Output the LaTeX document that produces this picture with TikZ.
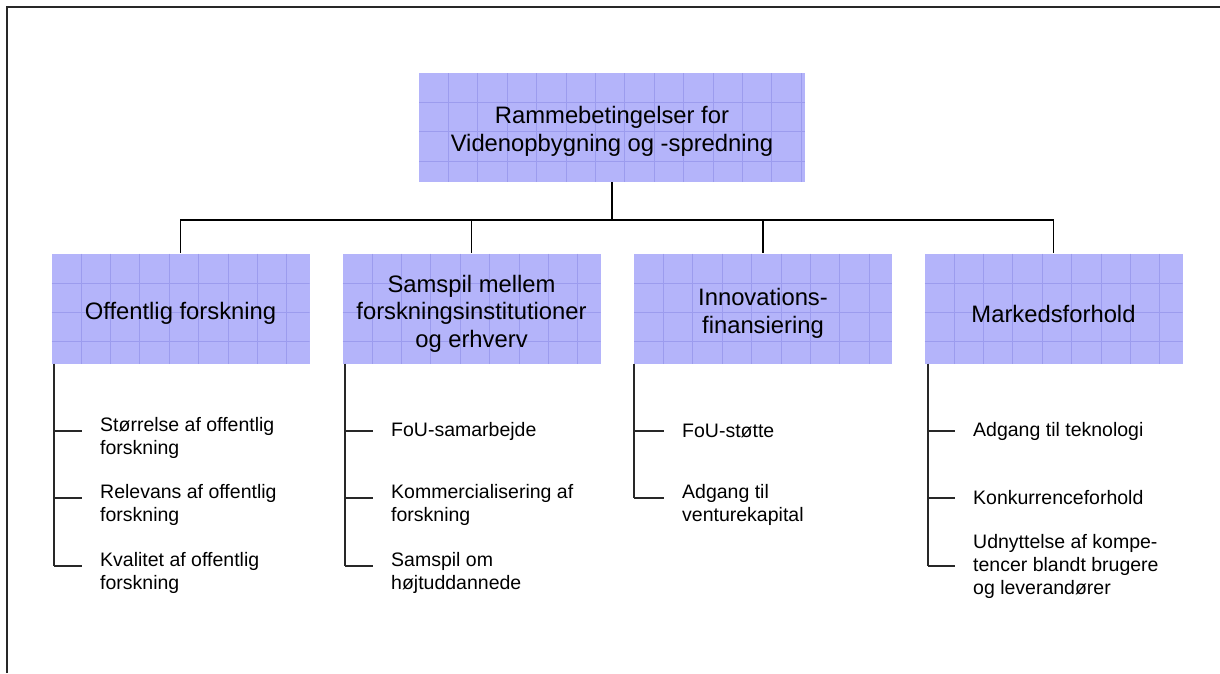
\documentclass[tikz,border=0pt]{standalone}
\usepackage{fontspec}
\setmainfont{Liberation Sans}
\usetikzlibrary{positioning}

\definecolor{boxfill}{RGB}{180,180,250}
\definecolor{boxgrid}{RGB}{156,156,238}
\definecolor{linegray}{RGB}{40,40,40}

\tikzset{
  gridbox/.style={fill=boxfill, inner sep=0pt,
    minimum width=258pt, minimum height=110pt,
    path picture={
      \foreach \k in {1,...,13}
        \draw[boxgrid, line width=0.7pt]
          ([xshift=\k*29.4pt]path picture bounding box.north west) --
          ([xshift=\k*29.4pt]path picture bounding box.south west);
      \foreach \k in {1,...,4}
        \draw[boxgrid, line width=0.7pt]
          ([yshift=-\k*29.4pt]path picture bounding box.north west) --
          ([yshift=-\k*29.4pt]path picture bounding box.north east);
    }},
  boxtext/.style={inner sep=0pt, align=center,
    font=\fontsize{23.8}{27.5}\selectfont},
  item/.style={inner sep=0pt, align=left, anchor=west,
    font=\fontsize{19.5}{23}\selectfont},
  conn/.style={draw=black, line width=1.7pt},
  spine/.style={draw=linegray, line width=1.7pt}
}

\begin{document}
\begin{tikzpicture}[x=1pt, y=-1pt]
\useasboundingbox (0,0) rectangle (1220,673);
% frame
\draw[linegray, line width=2pt] (7,673) -- (7,7) -- (1220,7);

% boxes
\node[gridbox, minimum width=386pt, minimum height=109pt] (top) at (612,127.5) {};
\node[gridbox] (b1) at (180.5,308.5) {};
\node[gridbox] (b2) at (471.5,308.5) {};
\node[gridbox] (b3) at (763,308.5) {};
\node[gridbox] (b4) at (1053.5,308.5) {};

\node[boxtext] (topt) at ([yshift=-4pt]top.center) {Rammebetingelser for\\Videnopbygning og -spredning};
\node[boxtext] (b1t) at ([yshift=-5pt]b1.center) {Offentlig forskning};
\node[boxtext] (b2t) at ([yshift=-5pt]b2.center) {Samspil mellem\\forskningsinstitutioner\\og erhverv};
\node[boxtext] (b3t) at ([yshift=-5pt]b3.center) {Innovations-\\finansiering};
\node[boxtext] (b4t) at ([yshift=-5pt]b4.center) {Markedsforhold};

% tree
\foreach \b in {b1,b2,b3,b4}
  \draw[conn] (top.south) -- ++(0,38) -| (\b.north);

% ticks
\coordinate (t11) at (54,431);
\coordinate (t12) at (54,498);
\coordinate (t13) at (54,566);
\coordinate (t21) at (345,431);
\coordinate (t22) at (345,498);
\coordinate (t23) at (345,566);
\coordinate (t31) at (634,431);
\coordinate (t32) at (634,498);
\coordinate (t41) at (928,431);
\coordinate (t42) at (928,498);
\coordinate (t43) at (928,566);

% items
\node[item] (i11) at ([shift={(46,7)}]t11) {Størrelse af offentlig\\forskning};
\node[item] (i12) at ([shift={(46,7)}]t12) {Relevans af offentlig\\forskning};
\node[item] (i13) at ([shift={(46,7)}]t13) {Kvalitet af offentlig\\forskning};
\node[item] (i21) at ([shift={(46,0)}]t21) {FoU-samarbejde};
\node[item] (i22) at ([shift={(46,7)}]t22) {Kommercialisering af\\forskning};
\node[item] (i23) at ([shift={(46,7)}]t23) {Samspil om\\højtuddannede};
\node[item] (i31) at ([shift={(48,0)}]t31) {FoU-støtte};
\node[item] (i32) at ([shift={(48,7)}]t32) {Adgang til\\venturekapital};
\node[item] (i41) at ([shift={(45,0)}]t41) {Adgang til teknologi};
\node[item] (i42) at ([shift={(45,0)}]t42) {Konkurrenceforhold};
\node[item] (i43) at ([shift={(45,0)}]t43) {Udnyttelse af kompe-\\tencer blandt brugere\\og leverandører};

% spines
\draw[spine] (b1.south -| t11) -- (t13);
\draw[spine] (b2.south -| t21) -- (t23);
\draw[spine] (b3.south -| t31) -- (t32);
\draw[spine] (b4.south -| t41) -- (t43);
\foreach \t/\i in {t11/i11,t12/i12,t13/i13,t21/i21,t22/i22,t23/i23,t31/i31,t32/i32,t41/i41,t42/i42,t43/i43}
  \draw[spine] (\t) -- ([xshift=-18pt]\i.west |- \t);
\end{tikzpicture}
\end{document}
